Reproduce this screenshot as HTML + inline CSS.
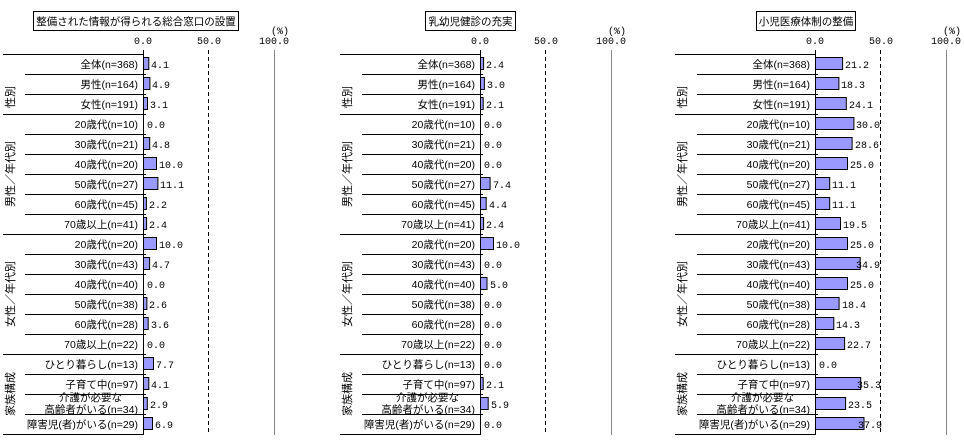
<!DOCTYPE html>
<html><head><meta charset="utf-8"><style>
html,body{margin:0;padding:0;background:#fff;}
svg{display:block;font-family:"Liberation Sans","Noto Sans CJK JP",sans-serif;}
.l{font-size:10.5px;text-anchor:end;fill:#000;}
.v{font-family:"Liberation Mono","Noto Sans CJK JP",monospace;font-size:10px;fill:#000;}
.a{font-family:"Liberation Mono",monospace;font-size:10px;text-anchor:middle;}
.g{font-size:11px;text-anchor:middle;}
.t{font-size:10.5px;text-anchor:middle;}
rect.b{fill:#9999ff;stroke:#000;stroke-width:1;}
</style></head><body>
<svg width="964" height="445" viewBox="0 0 964 445">
<defs>
<g id="frame">
  <path d="M3 54.5H143M25 74.5H146M3 114.5H146M25 94.5H146M25 134.5H146M25 154.5H146M25 174.5H146M25 194.5H146M25 214.5H146M3 234.5H146M25 254.5H146M25 274.5H146M25 294.5H146M25 314.5H146M25 334.5H146M3 354.5H146M25 374.5H146M25 394.5H146M25 414.5H146M3 434.5H143" stroke="#000" stroke-width="1" fill="none"/>
  <line x1="143.5" y1="50" x2="143.5" y2="435" stroke="#000"/>
  <line x1="208.5" y1="50" x2="208.5" y2="435" stroke="#000" stroke-dasharray="4,3"/>
  <line x1="274.5" y1="50" x2="274.5" y2="435" stroke="#888"/>
  <text class="a" x="143" y="44">0.0</text>
  <text class="a" x="209" y="44">50.0</text>
  <text class="a" x="274" y="44">100.0</text>
  <text class="a" x="280" y="34">(%)</text>
  <text class="l" x="138" y="68">全体(n=368)</text>
  <text class="l" x="138" y="88">男性(n=164)</text>
  <text class="l" x="138" y="108">女性(n=191)</text>
  <text class="l" x="138" y="128">20歳代(n=10)</text>
  <text class="l" x="138" y="148">30歳代(n=21)</text>
  <text class="l" x="138" y="168">40歳代(n=20)</text>
  <text class="l" x="138" y="188">50歳代(n=27)</text>
  <text class="l" x="138" y="208">60歳代(n=45)</text>
  <text class="l" x="138" y="228">70歳以上(n=41)</text>
  <text class="l" x="138" y="248">20歳代(n=20)</text>
  <text class="l" x="138" y="268">30歳代(n=43)</text>
  <text class="l" x="138" y="288">40歳代(n=40)</text>
  <text class="l" x="138" y="308">50歳代(n=38)</text>
  <text class="l" x="138" y="328">60歳代(n=28)</text>
  <text class="l" x="138" y="348">70歳以上(n=22)</text>
  <text class="l" x="138" y="368">ひとり暮らし(n=13)</text>
  <text class="l" x="138" y="388">子育て中(n=97)</text>
  <text class="l" x="122" y="401">介護が必要な</text>
  <text class="l" x="138" y="413">高齢者がいる(n=34)</text>
  <text class="l" x="138" y="428">障害児(者)がいる(n=29)</text>
  <text class="g" transform="translate(14,97) rotate(-90)">性別</text>
  <text class="g" transform="translate(14,174) rotate(-90)">男性／年代別</text>
  <text class="g" transform="translate(14,294) rotate(-90)">女性／年代別</text>
  <text class="g" transform="translate(14,394) rotate(-90)">家族構成</text>
</g>
</defs>

<!-- Panel 1 -->
<g>
<use href="#frame"/>
<rect x="33.5" y="11.5" width="205" height="19" fill="#fff" stroke="#000"/>
<text class="t" x="136" y="25">整備された情報が得られる総合窓口の設置</text>
<rect class="b" x="143.5" y="57.5" width="5.3" height="12"/><text class="v" x="151" y="68">4.1</text>
<rect class="b" x="143.5" y="77.5" width="6.4" height="12"/><text class="v" x="152" y="88">4.9</text>
<rect class="b" x="143.5" y="97.5" width="4" height="12"/><text class="v" x="150" y="108">3.1</text>
<text class="v" x="147" y="128">0.0</text>
<rect class="b" x="143.5" y="137.5" width="6.2" height="12"/><text class="v" x="152" y="148">4.8</text>
<rect class="b" x="143.5" y="157.5" width="13" height="12"/><text class="v" x="159" y="168">10.0</text>
<rect class="b" x="143.5" y="177.5" width="14.4" height="12"/><text class="v" x="160" y="188">11.1</text>
<rect class="b" x="143.5" y="197.5" width="2.9" height="12"/><text class="v" x="149" y="208">2.2</text>
<rect class="b" x="143.5" y="217.5" width="3.1" height="12"/><text class="v" x="149" y="228">2.4</text>
<rect class="b" x="143.5" y="237.5" width="13" height="12"/><text class="v" x="159" y="248">10.0</text>
<rect class="b" x="143.5" y="257.5" width="6.1" height="12"/><text class="v" x="152" y="268">4.7</text>
<text class="v" x="147" y="288">0.0</text>
<rect class="b" x="143.5" y="297.5" width="3.4" height="12"/><text class="v" x="149" y="308">2.6</text>
<rect class="b" x="143.5" y="317.5" width="4.7" height="12"/><text class="v" x="151" y="328">3.6</text>
<text class="v" x="147" y="348">0.0</text>
<rect class="b" x="143.5" y="357.5" width="10" height="12"/><text class="v" x="156" y="368">7.7</text>
<rect class="b" x="143.5" y="377.5" width="5.3" height="12"/><text class="v" x="151" y="388">4.1</text>
<rect class="b" x="143.5" y="397.5" width="3.8" height="12"/><text class="v" x="150" y="408">2.9</text>
<rect class="b" x="143.5" y="417.5" width="9" height="12"/><text class="v" x="155" y="428">6.9</text>
</g>

<!-- Panel 2 -->
<g transform="translate(337,0)">
<use href="#frame"/>
<rect x="88.5" y="11.5" width="90" height="19" fill="#fff" stroke="#000"/>
<text class="t" x="133.5" y="25">乳幼児健診の充実</text>
<rect class="b" x="143.5" y="57.5" width="3.1" height="12"/><text class="v" x="149" y="68">2.4</text>
<rect class="b" x="143.5" y="77.5" width="3.9" height="12"/><text class="v" x="150" y="88">3.0</text>
<rect class="b" x="143.5" y="97.5" width="2.7" height="12"/><text class="v" x="149" y="108">2.1</text>
<text class="v" x="147" y="128">0.0</text>
<text class="v" x="147" y="148">0.0</text>
<text class="v" x="147" y="168">0.0</text>
<rect class="b" x="143.5" y="177.5" width="9.6" height="12"/><text class="v" x="156" y="188">7.4</text>
<rect class="b" x="143.5" y="197.5" width="5.7" height="12"/><text class="v" x="152" y="208">4.4</text>
<rect class="b" x="143.5" y="217.5" width="3.1" height="12"/><text class="v" x="149" y="228">2.4</text>
<rect class="b" x="143.5" y="237.5" width="13" height="12"/><text class="v" x="159" y="248">10.0</text>
<text class="v" x="147" y="268">0.0</text>
<rect class="b" x="143.5" y="277.5" width="6.5" height="12"/><text class="v" x="153" y="288">5.0</text>
<text class="v" x="147" y="308">0.0</text>
<text class="v" x="147" y="328">0.0</text>
<text class="v" x="147" y="348">0.0</text>
<text class="v" x="147" y="368">0.0</text>
<rect class="b" x="143.5" y="377.5" width="2.7" height="12"/><text class="v" x="149" y="388">2.1</text>
<rect class="b" x="143.5" y="397.5" width="7.7" height="12"/><text class="v" x="154" y="408">5.9</text>
<text class="v" x="147" y="428">0.0</text>
</g>

<!-- Panel 3 -->
<g transform="translate(672,0)">
<use href="#frame"/>
<rect x="84.5" y="11.5" width="99" height="19" fill="#fff" stroke="#000"/>
<text class="t" x="134" y="25">小児医療体制の整備</text>
<rect class="b" x="143.5" y="57.5" width="27.1" height="12"/><text class="v" x="173" y="68">21.2</text>
<rect class="b" x="143.5" y="77.5" width="23.4" height="12"/><text class="v" x="169" y="88">18.3</text>
<rect class="b" x="143.5" y="97.5" width="30.8" height="12"/><text class="v" x="177" y="108">24.1</text>
<rect class="b" x="143.5" y="117.5" width="38.4" height="12"/><text class="v" x="184" y="128">30.0</text>
<rect class="b" x="143.5" y="137.5" width="36.6" height="12"/><text class="v" x="183" y="148">28.6</text>
<rect class="b" x="143.5" y="157.5" width="32" height="12"/><text class="v" x="178" y="168">25.0</text>
<rect class="b" x="143.5" y="177.5" width="14.2" height="12"/><text class="v" x="160" y="188">11.1</text>
<rect class="b" x="143.5" y="197.5" width="14.2" height="12"/><text class="v" x="160" y="208">11.1</text>
<rect class="b" x="143.5" y="217.5" width="25" height="12"/><text class="v" x="171" y="228">19.5</text>
<rect class="b" x="143.5" y="237.5" width="32" height="12"/><text class="v" x="178" y="248">25.0</text>
<rect class="b" x="143.5" y="257.5" width="44.7" height="12"/><text class="v" x="184" y="268">34.9</text>
<rect class="b" x="143.5" y="277.5" width="32" height="12"/><text class="v" x="178" y="288">25.0</text>
<rect class="b" x="143.5" y="297.5" width="23.6" height="12"/><text class="v" x="170" y="308">18.4</text>
<rect class="b" x="143.5" y="317.5" width="18.3" height="12"/><text class="v" x="164" y="328">14.3</text>
<rect class="b" x="143.5" y="337.5" width="29.1" height="12"/><text class="v" x="175" y="348">22.7</text>
<text class="v" x="147" y="368">0.0</text>
<rect class="b" x="143.5" y="377.5" width="45.2" height="12"/><text class="v" x="185" y="388">35.3</text>
<rect class="b" x="143.5" y="397.5" width="30.1" height="12"/><text class="v" x="176" y="408">23.5</text>
<rect class="b" x="143.5" y="417.5" width="48.5" height="12"/><text class="v" x="186" y="428">37.9</text>
</g>
</svg>
</body></html>
